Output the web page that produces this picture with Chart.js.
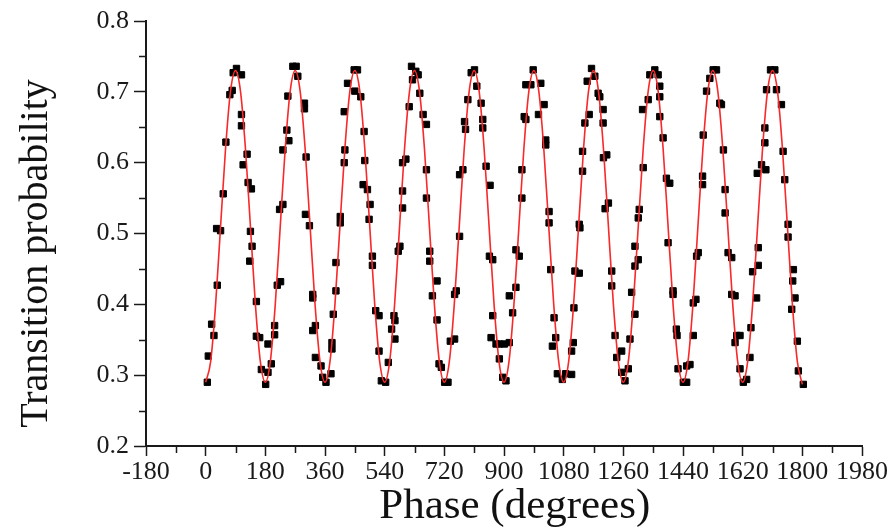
<!DOCTYPE html>
<html>
<head>
<meta charset="utf-8">
<script src="https://cdn.jsdelivr.net/npm/chart.js@4.4.1/dist/chart.umd.min.js"></script>
<style>
  html, body { margin: 0; padding: 0; background: #fff; }
  #wrap { width: 895px; height: 528px; }
</style>
</head>
<body>
<div id="wrap"><canvas id="chart"></canvas></div>
<script>
// tick values (major labelled, minor unlabelled)
const xTicks = [-180, 0, 180, 360, 540, 720, 900, 1080, 1260, 1440, 1620, 1800, 1980];
const xMinor = [-90, 90, 270, 450, 630, 810, 990, 1170, 1350, 1530, 1710, 1890];
const yTicks = [0.2, 0.3, 0.4, 0.5, 0.6, 0.7, 0.8];
const yMinor = [0.25, 0.35, 0.45, 0.55, 0.65, 0.75];

// fitted curve, read every 15 degrees
const fitPhase = [
  0, 15, 30, 45, 60, 75, 90, 105, 120, 135, 150, 165,
  180, 195, 210, 225, 240, 255, 270, 285, 300, 315, 330, 345,
  360, 375, 390, 405, 420, 435, 450, 465, 480, 495, 510, 525,
  540, 555, 570, 585, 600, 615, 630, 645, 660, 675, 690, 705,
  720, 735, 750, 765, 780, 795, 810, 825, 840, 855, 870, 885,
  900, 915, 930, 945, 960, 975, 990, 1005, 1020, 1035, 1050, 1065,
  1080, 1095, 1110, 1125, 1140, 1155, 1170, 1185, 1200, 1215, 1230, 1245,
  1260, 1275, 1290, 1305, 1320, 1335, 1350, 1365, 1380, 1395, 1410, 1425,
  1440, 1455, 1470, 1485, 1500, 1515, 1530, 1545, 1560, 1575, 1590, 1605,
  1620, 1635, 1650, 1665, 1680, 1695, 1710, 1725, 1740, 1755, 1770, 1785,
  1800
];
const fitProb = [
  0.29, 0.319, 0.40, 0.51, 0.62, 0.701, 0.73, 0.701, 0.62, 0.51, 0.40, 0.319,
  0.29, 0.319, 0.40, 0.51, 0.62, 0.701, 0.73, 0.701, 0.62, 0.51, 0.40, 0.319,
  0.29, 0.319, 0.40, 0.51, 0.62, 0.701, 0.73, 0.701, 0.62, 0.51, 0.40, 0.319,
  0.29, 0.319, 0.40, 0.51, 0.62, 0.701, 0.73, 0.701, 0.62, 0.51, 0.40, 0.319,
  0.29, 0.319, 0.40, 0.51, 0.62, 0.701, 0.73, 0.701, 0.62, 0.51, 0.40, 0.319,
  0.29, 0.319, 0.40, 0.51, 0.62, 0.701, 0.73, 0.701, 0.62, 0.51, 0.40, 0.319,
  0.29, 0.319, 0.40, 0.51, 0.62, 0.701, 0.73, 0.701, 0.62, 0.51, 0.40, 0.319,
  0.29, 0.319, 0.40, 0.51, 0.62, 0.701, 0.73, 0.701, 0.62, 0.51, 0.40, 0.319,
  0.29, 0.319, 0.40, 0.51, 0.62, 0.701, 0.73, 0.701, 0.62, 0.51, 0.40, 0.319,
  0.29, 0.319, 0.40, 0.51, 0.62, 0.701, 0.73, 0.701, 0.62, 0.51, 0.40, 0.319,
  0.287
];

// measured points (phase in degrees, transition probability)
const measPhase = [
  5, 8, 18, 25, 35, 33, 45, 53, 61, 73, 80, 83, 93, 108, 108, 108, 125, 113, 128, 138, 135, 140, 133, 153, 153, 163, 188, 168, 188, 181,
  198, 208, 208, 216, 226, 223, 233, 233, 251, 245, 248, 263, 273, 278, 298, 298, 303, 301, 313, 323, 323, 331, 323, 331, 348, 353, 363, 378,
  381, 381, 385, 393, 393, 406, 406, 418, 420, 418, 428, 448, 458, 450, 468, 478, 480, 475, 488, 496, 493, 503, 503, 513, 523, 523, 530, 543,
  551, 561, 571, 568, 571, 581, 586, 594, 594, 594, 604, 614, 624, 621, 634, 641, 646, 656, 666, 666, 666, 676, 676, 698, 684, 698, 704, 711, 721, 731, 738, 751,
  751, 756, 766, 766, 776, 781, 784, 791, 801, 811, 818, 831, 836, 836, 846, 858, 856, 866, 866, 861, 876, 886, 901, 916, 886, 896, 906,
  916, 926, 936, 936, 946, 954, 954, 966, 961, 966, 981, 988, 1011, 1004, 1021, 1026, 1026, 1036, 1036, 1041, 1051, 1056, 1046, 1061, 1076, 1086,
  1104, 1109, 1104, 1111, 1127, 1114, 1127, 1129, 1137, 1137, 1144, 1157, 1151, 1164, 1174, 1184, 1189, 1199, 1199, 1210, 1200, 1215, 1205, 1225, 1225, 1235, 1255, 1240, 1255, 1265, 1275, 1280,
  1295, 1285, 1295, 1305, 1295, 1305, 1308, 1320, 1318, 1335, 1340, 1355, 1365, 1370, 1370, 1370, 1380, 1390, 1400, 1395, 1410, 1410, 1420, 1422, 1425, 1441, 1451, 1451, 1461, 1471,
  1471, 1479, 1481, 1486, 1499, 1499, 1501, 1511, 1521, 1531, 1541, 1551, 1556, 1562, 1567, 1567, 1576, 1587, 1587, 1597, 1602, 1597, 1612, 1612, 1622, 1632,
  1642, 1645, 1650, 1662, 1667, 1667, 1664, 1677, 1690, 1687, 1687, 1692, 1704, 1717, 1722, 1737, 1742, 1747, 1757, 1757, 1773, 1771, 1778, 1768, 1785, 1788, 1803
];
const measProb = [
  0.290, 0.327, 0.372, 0.356, 0.427, 0.507, 0.504, 0.556, 0.629, 0.696, 0.702, 0.727, 0.733, 0.724, 0.668, 0.652, 0.612, 0.597, 0.572, 0.563, 0.503, 0.482, 0.461, 0.404, 0.355, 0.353, 0.344, 0.308, 0.304, 0.287,
  0.316, 0.370, 0.357, 0.427, 0.432, 0.534, 0.541, 0.618, 0.631, 0.646, 0.694, 0.736, 0.736, 0.722, 0.684, 0.676, 0.608, 0.527, 0.511, 0.414, 0.409, 0.370, 0.363, 0.325, 0.313, 0.297, 0.290, 0.302,
  0.346, 0.337, 0.386, 0.419, 0.459, 0.524, 0.515, 0.600, 0.618, 0.672, 0.712, 0.731, 0.731, 0.701, 0.693, 0.644, 0.603, 0.569, 0.562, 0.541, 0.520, 0.468, 0.455, 0.391, 0.384, 0.334, 0.292, 0.290,
  0.318, 0.365, 0.351, 0.384, 0.377, 0.475, 0.482, 0.536, 0.560, 0.600, 0.605, 0.679, 0.717, 0.736, 0.729, 0.724, 0.698, 0.668, 0.654, 0.590, 0.550, 0.475, 0.461, 0.433, 0.412, 0.378, 0.316, 0.311, 0.290, 0.290, 0.348, 0.351,
  0.414, 0.419, 0.496, 0.583, 0.590, 0.658, 0.647, 0.689, 0.727, 0.731, 0.708, 0.684, 0.661, 0.649, 0.595, 0.568, 0.468, 0.463, 0.384, 0.353, 0.344, 0.344, 0.344, 0.346, 0.323, 0.297, 0.292,
  0.412, 0.388, 0.424, 0.477, 0.468, 0.590, 0.550, 0.661, 0.665, 0.710, 0.710, 0.731, 0.712, 0.668, 0.682, 0.632, 0.625, 0.531, 0.515, 0.449, 0.381, 0.353, 0.341, 0.302, 0.294, 0.302,
  0.301, 0.346, 0.334, 0.395, 0.444, 0.447, 0.513, 0.508, 0.588, 0.616, 0.656, 0.668, 0.715, 0.733, 0.722, 0.698, 0.693, 0.675, 0.656, 0.611, 0.607, 0.543, 0.535, 0.447, 0.426, 0.356, 0.334, 0.325, 0.304, 0.292, 0.309, 0.351,
  0.386, 0.417, 0.454, 0.463, 0.482, 0.522, 0.534, 0.593, 0.675, 0.689, 0.724, 0.731, 0.724, 0.708, 0.693, 0.665, 0.635, 0.578, 0.571, 0.487, 0.419, 0.414, 0.365, 0.356, 0.309, 0.290, 0.290, 0.313, 0.315, 0.356,
  0.402, 0.407, 0.468, 0.473, 0.569, 0.581, 0.639, 0.701, 0.719, 0.731, 0.731, 0.684, 0.682, 0.618, 0.562, 0.529, 0.473, 0.466, 0.414, 0.412, 0.356, 0.346, 0.356, 0.309, 0.290, 0.294,
  0.325, 0.367, 0.446, 0.409, 0.455, 0.480, 0.585, 0.597, 0.590, 0.628, 0.649, 0.703, 0.731, 0.731, 0.703, 0.682, 0.616, 0.576, 0.513, 0.495, 0.449, 0.433, 0.409, 0.393, 0.348, 0.306, 0.287
];

const serif = '"Liberation Serif", "Times New Roman", serif';

// small unlabelled ticks between the labelled ones
const minorTicks = {
  id: 'minorTicks',
  afterDraw(chart) {
    const {ctx, scales: {x, y}} = chart;
    ctx.save();
    ctx.strokeStyle = '#1a1a1a';
    ctx.lineWidth = 1.5;
    ctx.beginPath();
    xMinor.forEach(v => {
      const px = Math.round(x.getPixelForValue(v)) + 0.5;
      ctx.moveTo(px, x.top);
      ctx.lineTo(px, x.top + 7);
    });
    yMinor.forEach(v => {
      const py = Math.round(y.getPixelForValue(v)) + 0.5;
      ctx.moveTo(y.right, py);
      ctx.lineTo(y.right - 7, py);
    });
    ctx.stroke();
    ctx.restore();
  }
};

new Chart(document.getElementById('chart'), {
  type: 'scatter',
  data: {
    datasets: [
      {
        label: 'Fit',
        data: fitPhase.map((p, i) => ({x: p, y: fitProb[i]})),
        showLine: true,
        borderColor: 'rgb(250,40,40)',
        borderWidth: 1.6,
        pointRadius: 0,
        cubicInterpolationMode: 'monotone',
        order: 0
      },
      {
        label: 'Data',
        data: measPhase.map((p, i) => ({x: p, y: measProb[i]})),
        pointStyle: 'rect',
        pointRadius: 4.5,
        pointBackgroundColor: '#000',
        pointBorderColor: '#000',
        pointBorderWidth: 1,
        order: 1
      }
    ]
  },
  options: {
    responsive: true,
    maintainAspectRatio: false,
    animation: false,
    devicePixelRatio: 1,
    layout: { padding: { top: 21, right: 33, left: 0, bottom: 0 } },
    plugins: { legend: { display: false }, tooltip: { enabled: false } },
    scales: {
      x: {
        type: 'linear',
        min: -180,
        max: 1980,
        afterBuildTicks: s => { s.ticks = xTicks.map(v => ({value: v})); },
        afterFit: s => { s.height = 82; },
        ticks: {
          color: '#1a1a1a',
          font: { family: serif, size: 26 },
          padding: 1,
          maxRotation: 0,
          autoSkip: false,
          callback: v => String(v)
        },
        grid: { drawOnChartArea: false, drawTicks: true, tickLength: 10, tickColor: '#1a1a1a', tickWidth: 1.5 },
        border: { display: true, color: '#1a1a1a', width: 2 },
        title: {
          display: true,
          text: '\u2002Phase (degrees)',
          color: '#111',
          font: { family: serif, size: 43, lineHeight: 1 },
          padding: { top: 0, bottom: 0 }
        }
      },
      y: {
        min: 0.2,
        max: 0.8,
        afterBuildTicks: s => { s.ticks = yTicks.map(v => ({value: v})); },
        afterFit: s => { s.width = 146; },
        ticks: {
          color: '#1a1a1a',
          font: { family: serif, size: 26 },
          padding: 5,
          callback: v => v.toFixed(1)
        },
        grid: { drawOnChartArea: false, drawTicks: true, tickLength: 12, tickColor: '#1a1a1a', tickWidth: 1.5 },
        border: { display: true, color: '#1a1a1a', width: 2 },
        title: {
          display: true,
          text: 'Transition probability\u2002\u2002',
          color: '#111',
          font: { family: serif, size: 40, lineHeight: 1 },
          padding: { top: 16, bottom: 0 }
        }
      }
    }
  },
  plugins: [minorTicks]
});
</script>
</body>
</html>
